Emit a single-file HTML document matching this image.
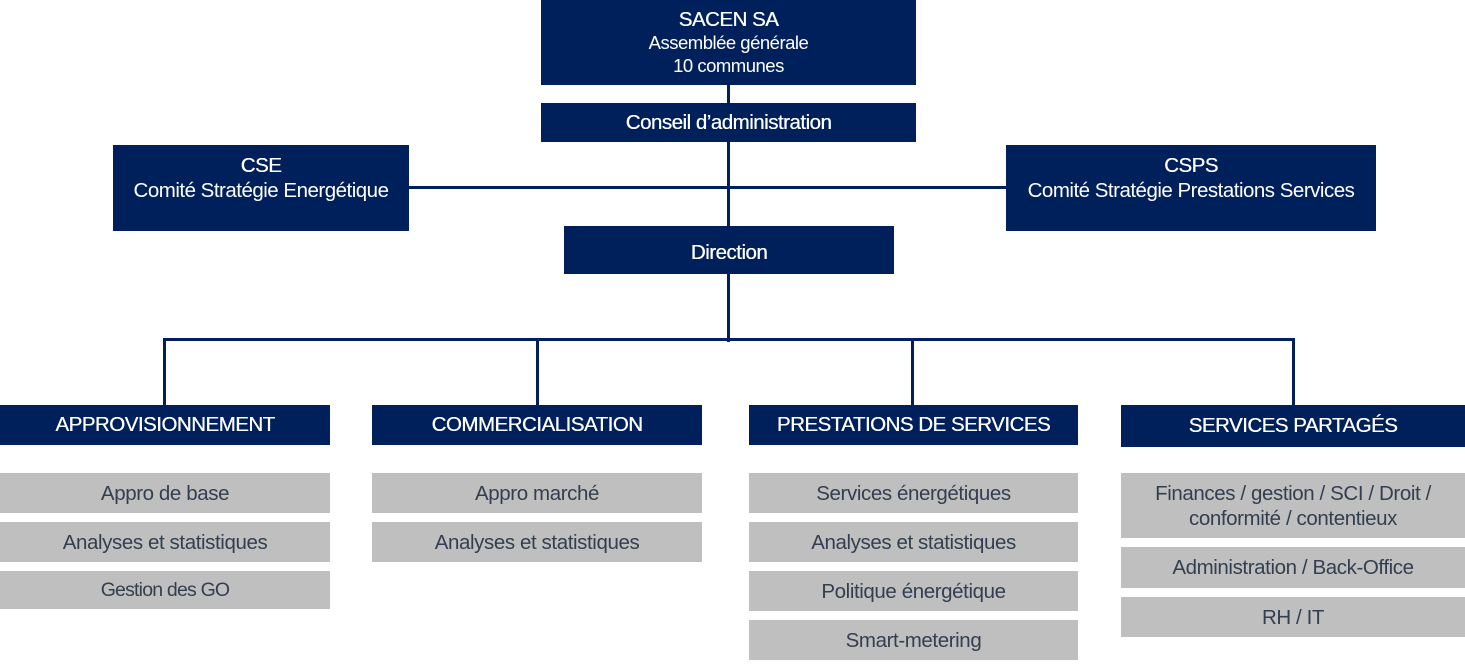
<!DOCTYPE html>
<html><head><meta charset="utf-8"><style>
body{margin:0;width:1465px;height:665px;background:#fff;position:relative;overflow:hidden;font-family:"Liberation Sans",sans-serif;}
.b{position:absolute;display:flex;flex-direction:column;align-items:center;justify-content:center;text-align:center;box-sizing:border-box;}
.n{background:#00205b;color:#fff;font-size:20.5px;letter-spacing:-0.5px;text-shadow:0.3px 0 0 #fff;}
.g{background:#bfbfbf;color:#333f50;font-size:20.5px;letter-spacing:-0.4px;line-height:25px;}
.l{position:absolute;background:#00205b;}
.s{font-size:18.5px;line-height:23px;text-shadow:none;}
</style></head><body>
<div class="l" style="left:727px;top:85px;width:3px;height:257px"></div>
<div class="l" style="left:408px;top:186px;width:598px;height:3px"></div>
<div class="l" style="left:163px;top:338px;width:1132px;height:3px"></div>
<div class="l" style="left:163px;top:338px;width:3px;height:67px"></div>
<div class="l" style="left:536px;top:338px;width:3px;height:67px"></div>
<div class="l" style="left:911px;top:338px;width:3px;height:67px"></div>
<div class="l" style="left:1292px;top:338px;width:3px;height:67px"></div>

<div class="b n" style="left:541px;top:0;width:375px;height:85px;line-height:23px"><div>SACEN SA</div><div class="s">Assemblée générale</div><div class="s">10 communes</div></div>
<div class="b n" style="left:541px;top:103px;width:375px;height:39px">Conseil d’administration</div>
<div class="b n" style="left:113px;top:145px;width:296px;height:86px;line-height:25px;justify-content:flex-start;padding-top:8px"><div>CSE</div><div style="text-shadow:none">Comité Stratégie Energétique</div></div>
<div class="b n" style="left:1006px;top:145px;width:370px;height:86px;line-height:25px;justify-content:flex-start;padding-top:8px"><div>CSPS</div><div style="text-shadow:none">Comité Stratégie Prestations Services</div></div>
<div class="b n" style="left:564px;top:226px;width:330px;height:48px;padding-top:6px">Direction</div>

<div class="b n" style="left:0;top:405px;width:330px;height:40px">APPROVISIONNEMENT</div>
<div class="b n" style="left:372px;top:405px;width:330px;height:40px">COMMERCIALISATION</div>
<div class="b n" style="left:749px;top:405px;width:329px;height:40px">PRESTATIONS DE SERVICES</div>
<div class="b n" style="left:1121px;top:405px;width:344px;height:42px">SERVICES PARTAGÉS</div>

<div class="b g" style="left:0;top:473px;width:330px;height:40px">Appro de base</div>
<div class="b g" style="left:0;top:522px;width:330px;height:40px">Analyses et statistiques</div>
<div class="b g" style="left:0;top:571px;width:330px;height:38px;letter-spacing:-0.8px;font-size:19.5px">Gestion des GO</div>

<div class="b g" style="left:372px;top:473px;width:330px;height:40px">Appro marché</div>
<div class="b g" style="left:372px;top:522px;width:330px;height:40px">Analyses et statistiques</div>

<div class="b g" style="left:749px;top:473px;width:329px;height:40px">Services énergétiques</div>
<div class="b g" style="left:749px;top:522px;width:329px;height:40px">Analyses et statistiques</div>
<div class="b g" style="left:749px;top:571px;width:329px;height:40px">Politique énergétique</div>
<div class="b g" style="left:749px;top:620px;width:329px;height:40px">Smart-metering</div>

<div class="b g" style="left:1121px;top:473px;width:344px;height:65px"><div>Finances / gestion / SCI / Droit /</div><div>conformité / contentieux</div></div>
<div class="b g" style="left:1121px;top:547px;width:344px;height:41px">Administration / Back-Office</div>
<div class="b g" style="left:1121px;top:597px;width:344px;height:40px">RH / IT</div>
</body></html>
